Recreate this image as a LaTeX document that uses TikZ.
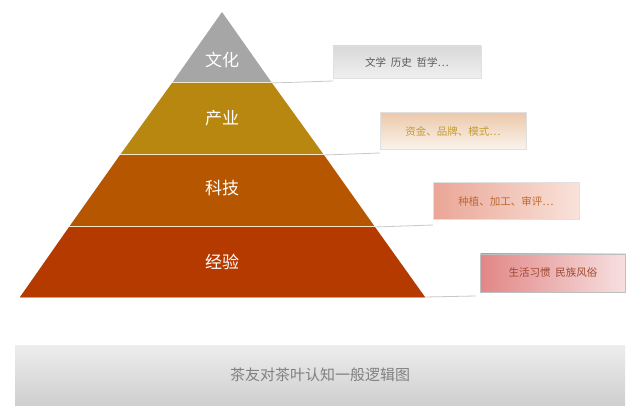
\documentclass[tikz,border=0pt]{standalone}
\usepackage{fontspec}
\newfontfamily\cjk{Noto Sans CJK SC}
\definecolor{lvA}{HTML}{A6A6A6}
\definecolor{lvB}{HTML}{B8870F}
\definecolor{lvC}{HTML}{B65600}
\definecolor{lvD}{HTML}{B53A00}
\definecolor{sep}{HTML}{F3E6C8}
\definecolor{conn}{HTML}{C8C8C8}
\begin{document}
\begin{tikzpicture}[x=1pt,y=-1pt,
  lvlabel/.style={text=white,font=\cjk\fontsize{17}{17}\selectfont},
  tagbox/.style={draw=black!12,line width=0.5pt,inner sep=0pt,font=\cjk\fontsize{10.5}{11}\selectfont},
  link/.style={draw=conn,line width=0.8pt}]
\useasboundingbox (0,0) rectangle (640,414);
\fill[white] (0,0) rectangle (640,414);
% pyramid corners
\coordinate (apex) at (222,12);
\coordinate (l1) at (172,83);  \coordinate (r1) at (272,83);
\coordinate (l2) at (120,155); \coordinate (r2) at (324,155);
\coordinate (l3) at (69,227);  \coordinate (r3) at (375,227);
\coordinate (l4) at (20,297);  \coordinate (r4) at (425,297);
\fill[lvA] (apex) -- (r1) -- (l1) -- cycle;
\fill[lvB] (l1) -- (r1) -- (r2) -- (l2) -- cycle;
\fill[lvC] (l2) -- (r2) -- (r3) -- (l3) -- cycle;
\fill[lvD] (l3) -- (r3) -- (r4) -- (l4) -- cycle;
\draw[sep,line width=1pt] (l1) -- (r1) (l2) -- (r2) (l3) -- (r3);
\draw[sep!60!lvD,line width=1pt] (l4) -- (r4);
% labels
\node[lvlabel] (t1) at (222,60) {文化};
\node[lvlabel] (t2) at (222,118) {产业};
\node[lvlabel] (t3) at (222,188) {科技};
\node[lvlabel] (t4) at (222,262) {经验};
% side boxes
\node[tagbox, minimum width=148pt, minimum height=32pt, top color=black!15, bottom color=black!6, text=black!65] (b1) at (407,62) {文学\ \ 历史\ \ 哲学⋯};
\node[tagbox, minimum width=146pt, minimum height=37pt, top color={rgb,255:red,236;green,200;blue,170}, bottom color={rgb,255:red,250;green,243;blue,236}, text={rgb,255:red,196;green,158;blue,48}] (b2) at (453,131) {资金、品牌、模式⋯};
\node[tagbox, minimum width=146pt, minimum height=37pt, left color={rgb,255:red,234;green,166;blue,150}, right color={rgb,255:red,249;green,226;blue,218}, text={rgb,255:red,190;green,105;blue,50}] (b3) at (506,201) {种植、加工、审评⋯};
\node[tagbox, draw=black!25, minimum width=145pt, minimum height=38pt, left color={rgb,255:red,226;green,134;blue,134}, right color={rgb,255:red,247;green,224;blue,224}, text={rgb,255:red,160;green,72;blue,48}] (b4) at (553,273) {生活习惯\ \ 民族风俗};
% connectors
\coordinate (e1) at (333,81);
\coordinate (e2) at (380,153);
\coordinate (e3) at (433,225);
\coordinate (e4) at (476,296);
\draw[link] (r1) -- (e1);
\draw[link] (r2) -- (e2);
\draw[link] (r3) -- (e3);
\draw[link] (r4) -- (e4);
% banner
\node[draw=none, minimum width=610pt, minimum height=60pt, top color=black!7, bottom color=black!19, text=black!50, font=\cjk\fontsize{15}{15}\selectfont] (banner) at (320,375) {茶友对茶叶认知一般逻辑图};
\end{tikzpicture}
\end{document}
